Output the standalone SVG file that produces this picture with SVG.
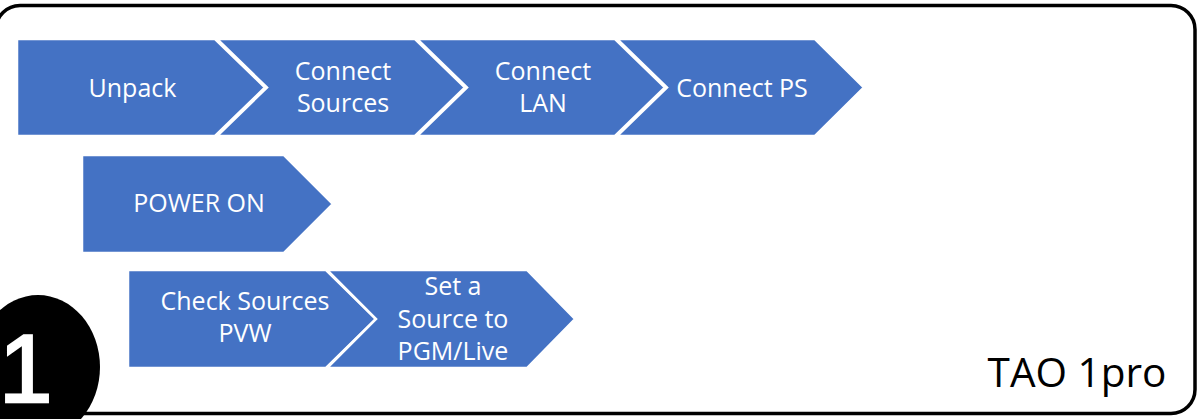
<svg xmlns="http://www.w3.org/2000/svg" width="1204" height="419" viewBox="0 0 1204 419">
<style>
.step{fill:#4472C4;stroke:#FFFFFF;stroke-width:2.5;stroke-linejoin:miter}
.lbl{font-family:"Open Sans","DejaVu Sans",sans-serif;font-size:25px;fill:#FFFFFF;text-anchor:middle}
.frame{fill:#FFFFFF;stroke:#000000;stroke-width:3.5}
</style>
<rect width="1204" height="419" fill="#FFFFFF"/>
<rect class="frame" x="-4" y="5.5" width="1199" height="408" rx="24" ry="24"/>
<g id="connectors"/>
<g id="unpack">
<polygon class="step" points="17,39 215,39 265,87.5 215,136 17,136"/>
<text class="lbl" x="132.5" y="97">Unpack</text>
</g>
<g id="connect-sources">
<polygon class="step" points="217,39 415,39 465,87.5 415,136 217,136 267,87.5"/>
<text class="lbl" x="343" y="80">Connect</text>
<text class="lbl" x="343" y="112">Sources</text>
</g>
<g id="connect-lan">
<polygon class="step" points="417,39 615,39 665,87.5 615,136 417,136 467,87.5"/>
<text class="lbl" x="543" y="80">Connect</text>
<text class="lbl" x="543" y="112">LAN</text>
</g>
<g id="connect-ps">
<polygon class="step" points="617,39 815,39 864,87.5 815,136 617,136 667,87.5"/>
<text class="lbl" x="742" y="97">Connect PS</text>
</g>
<g id="power-on">
<polygon class="step" points="82,155 284,155 333,204 284,253 82,253"/>
<text class="lbl" x="199" y="212">POWER ON</text>
</g>
<g id="check-sources">
<polygon class="step" points="128,270 326,270 376,319 326,368 128,368"/>
<text class="lbl" x="245" y="310">Check Sources</text>
<text class="lbl" x="245" y="342">PVW</text>
</g>
<g id="set-source">
<polygon class="step" points="327,270 527,270 575,319 527,368 327,368 376,319"/>
<text class="lbl" x="453" y="295">Set a</text>
<text class="lbl" x="453" y="328">Source to</text>
<text class="lbl" x="453" y="360">PGM/Live</text>
</g>
<g id="badge">
<ellipse cx="38" cy="367" rx="62" ry="72" fill="#000000"/>
<text x="-1" y="402" font-family="'Liberation Sans',Arial,sans-serif" font-size="96" fill="#FFFFFF" stroke="#FFFFFF" stroke-width="2.5">1</text>
</g>
<g id="title">
<text x="1077" y="387" font-family="'Open Sans','DejaVu Sans',sans-serif" font-size="40.5" fill="#000000" text-anchor="middle">TAO 1pro</text>
</g>
</svg>
